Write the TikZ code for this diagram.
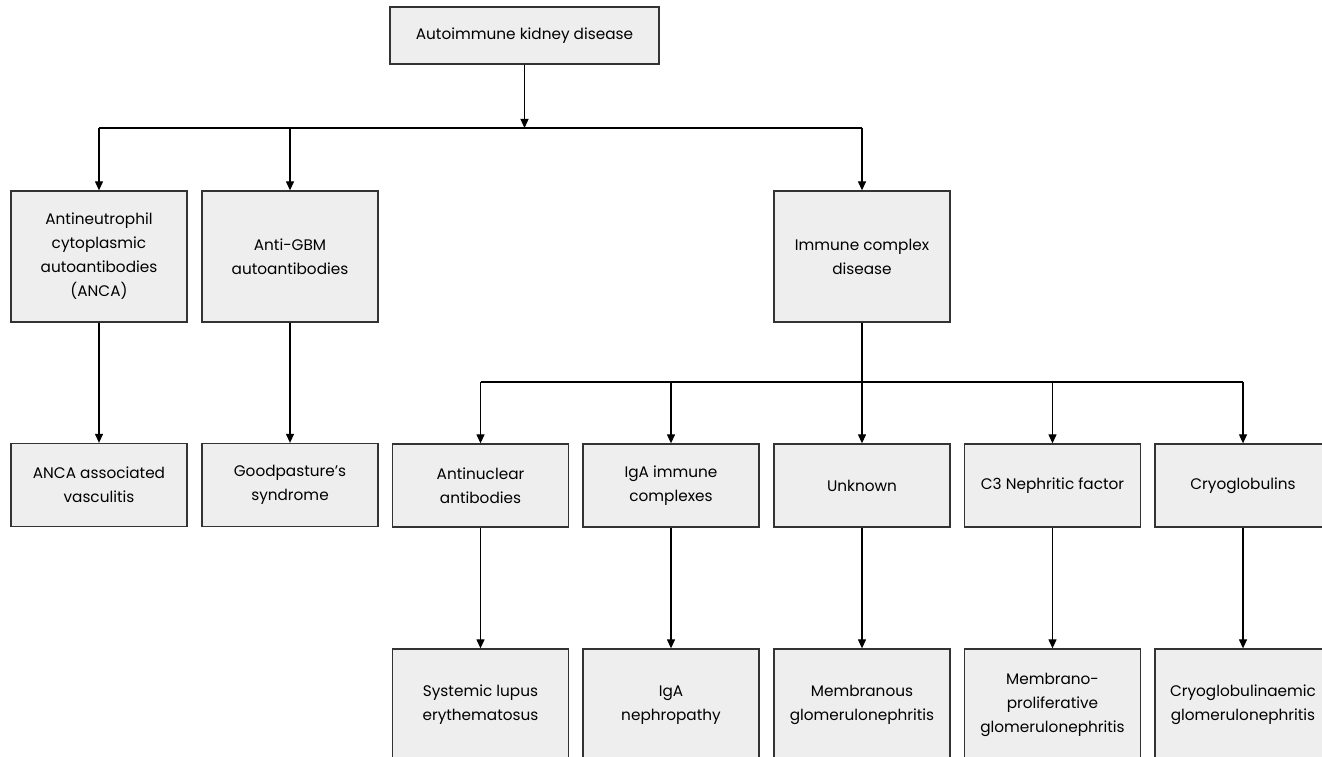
\documentclass[tikz,border=0pt]{standalone}
\usepackage{fontspec}
\setmainfont{Poppins}
\usetikzlibrary{arrows.meta}
\definecolor{boxfill}{HTML}{EEEEEE}
\definecolor{boxline}{HTML}{333333}
\tikzset{
  box/.style={draw=boxline, fill=boxfill, line width=1.3pt, align=center,
    inner sep=0pt, minimum width=176pt, font=\fontsize{15.3}{24}\selectfont},
  row2/.style={box, minimum height=131pt},
  row3/.style={box, minimum height=83pt},
  row4/.style={box, minimum height=112pt},
  arr/.style={line width=1.2pt, -{Triangle[length=9pt,width=8pt]}},
  ln/.style={line width=1.2pt}
}
\begin{document}
\begin{tikzpicture}[x=1pt,y=-1pt]
\path[use as bounding box, clip] (0,0) rectangle (1322,757);
\fill[white] (0,0) rectangle (1322,757);
% top
\node[box, minimum width=269pt, minimum height=57pt] (top) at (524.5,35.5) {Autoimmune kidney disease};
% row 2
\node[row2] (anca) at (99,256.5) {Antineutrophil\\cytoplasmic\\autoantibodies\\(ANCA)};
\node[row2] (gbm) at (290,256.5) {Anti-GBM\\autoantibodies};
\node[row2] (icd) at (862,256.5) {Immune complex\\disease};
% row 3
\node[row3] (aav) at (99,485) {ANCA associated\\vasculitis};
\node[row3] (gps) at (290,485) {Goodpasture's\\syndrome};
\node[row3] (ana) at (480.5,485.5) {Antinuclear\\antibodies};
\node[row3] (iga) at (671,485.5) {IgA immune\\complexes};
\node[row3] (unk) at (862,485.5) {Unknown};
\node[row3] (c3) at (1052.5,485.5) {C3 Nephritic factor};
\node[row3] (cryo) at (1243,485.5) {Cryoglobulins};
% row 4
\node[row4] (sle) at (480.5,705) {Systemic lupus\\erythematosus};
\node[row4] (igan) at (671,705) {IgA\\nephropathy};
\node[row4] (mgn) at (862,705) {Membranous\\glomerulonephritis};
\node[row4] (mpgn) at (1052.5,705) {Membrano-\\proliferative\\glomerulonephritis};
\node[row4] (cgn) at (1243,705) {Cryoglobulinaemic\\glomerulonephritis};
% connectors
\coordinate (h1) at (524.5,128);
\coordinate (h2) at (862,382);
\draw[arr] (top.south) -- (h1);
\draw[ln] (h1 -| anca) -- (h1 -| icd);
\draw[arr] (h1 -| anca) -- (anca.north);
\draw[arr] (h1 -| gbm) -- (gbm.north);
\draw[arr] (h1 -| icd) -- (icd.north);
\draw[arr] (anca.south) -- (aav.north);
\draw[arr] (gbm.south) -- (gps.north);
\draw[ln] (icd.south) -- (h2);
\draw[ln] (h2 -| ana) -- (h2 -| cryo);
\draw[arr] (h2 -| ana) -- (ana.north);
\draw[arr] (h2 -| iga) -- (iga.north);
\draw[arr] (h2 -| unk) -- (unk.north);
\draw[arr] (h2 -| c3) -- (c3.north);
\draw[arr] (h2 -| cryo) -- (cryo.north);
\draw[arr] (ana.south) -- (sle.north);
\draw[arr] (iga.south) -- (igan.north);
\draw[arr] (unk.south) -- (mgn.north);
\draw[arr] (c3.south) -- (mpgn.north);
\draw[arr] (cryo.south) -- (cgn.north);
\end{tikzpicture}
\end{document}
